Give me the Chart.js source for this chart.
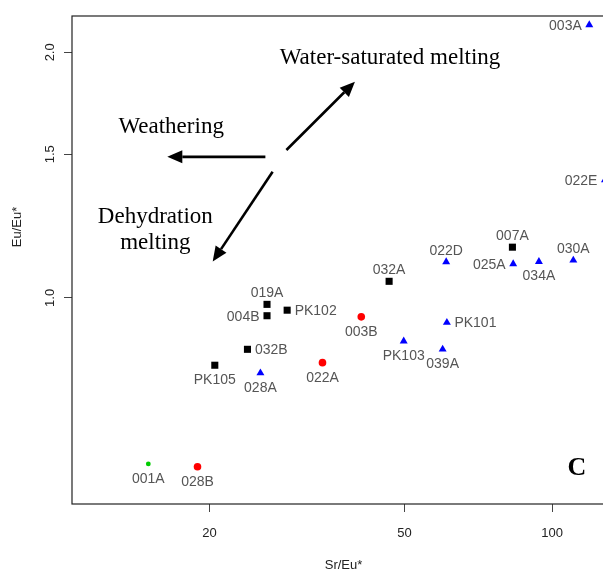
<!DOCTYPE html>
<html>
<head>
<meta charset="utf-8">
<script src="https://cdn.jsdelivr.net/npm/chart.js@4.4.0/dist/chart.umd.min.js"></script>
<style>
  html, body { margin: 0; padding: 0; background: #fff; overflow: hidden; }
  #wrap { width: 620px; height: 576px; }
</style>
</head>
<body>
<div id="wrap"><canvas id="srEuChart" width="620" height="576"></canvas></div>
<script>
// Sr/Eu* against Eu/Eu*, one group per marker type
const squareNames = ['019A', '004B', 'PK102', '032B', 'PK105', '032A', '007A'];
const squareSr = [26.2, 26.2, 28.8, 23.9, 20.5, 46.5, 83.0];
const squareEu = [0.982, 0.951, 0.966, 0.865, 0.827, 1.048, 1.154];

const circleNames = ['003B', '022A', '028B'];
const circleSr = [40.8, 34.0, 18.9];
const circleEu = [0.948, 0.833, 0.621];

const triangleNames = ['028A', 'PK103', '039A', 'PK101', '022D', '025A', '034A', '030A', '003A', '022E'];
const triangleSr = [25.4, 49.8, 59.8, 61.0, 60.8, 83.3, 94.0, 110.5, 119.1, 128.2];
const triangleEu = [0.809, 0.885, 0.865, 0.933, 1.107, 1.101, 1.108, 1.112, 2.161, 1.395];

const greenNames = ['001A'];
const greenSr = [15.0];
const greenEu = [0.626];

const xTicks = [20, 50, 100];
const yTicks = [1.0, 1.5, 2.0];

// which side of its marker each sample name sits on
const labelSide = {
  '019A': 'top', '004B': 'left', 'PK102': 'right', '032B': 'right', 'PK105': 'bottom',
  '032A': 'top', '007A': 'top', '003B': 'bottom', '022A': 'bottom', '028B': 'bottom',
  '028A': 'bottom', 'PK103': 'bottom', '039A': 'bottom', 'PK101': 'right', '022D': 'top',
  '025A': 'left', '034A': 'bottom', '030A': 'top', '003A': 'left', '022E': 'left', '001A': 'bottom'
};

// process trends, in data units
const processArrows = [
  { from: [28.7, 1.518], to: [39.6, 1.841] },
  { from: [26.0, 1.489], to: [16.4, 1.489] },
  { from: [26.9, 1.428], to: [20.3, 1.108] }
];
const processLabels = [
  { text: 'Water-saturated melting', x: 46.7, y: 1.968 },
  { text: 'Weathering', x: 16.7, y: 1.621 },
  { text: 'Dehydration', x: 15.5, y: 1.257 },
  { text: 'melting', x: 15.5, y: 1.168 }
];
const panelTag = { text: 'C', x: 112.3, y: 0.618 };

const toPoints = (xs, ys, names) => xs.map((x, i) => ({ x: x, y: ys[i], name: names[i] }));

const SANS = '"Liberation Sans", Arial, sans-serif';
const SERIF = '"Liberation Serif", "Times New Roman", serif';

const drawArrow = (ctx, x1, y1, x2, y2) => {
  const ang = Math.atan2(y2 - y1, x2 - x1);
  const len = 15, half = 6.5;
  const bx = x2 - Math.cos(ang) * len, by = y2 - Math.sin(ang) * len;
  ctx.beginPath();
  ctx.moveTo(x1, y1);
  ctx.lineTo(bx, by);
  ctx.stroke();
  ctx.beginPath();
  ctx.moveTo(x2, y2);
  ctx.lineTo(bx + Math.sin(ang) * half, by - Math.cos(ang) * half);
  ctx.lineTo(bx - Math.sin(ang) * half, by + Math.cos(ang) * half);
  ctx.closePath();
  ctx.fill();
};

const overlay = {
  id: 'overlay',
  afterDraw(chart) {
    const ctx = chart.ctx;
    const area = chart.chartArea;
    const xs = chart.scales.x, ys = chart.scales.y;
    ctx.save();

    // plot frame
    ctx.strokeStyle = '#222';
    ctx.lineWidth = 1.2;
    ctx.strokeRect(area.left, area.top, area.right - area.left, area.bottom - area.top);

    // y tick labels, parallel to the axis
    ctx.fillStyle = '#222';
    ctx.font = '13px ' + SANS;
    ctx.textAlign = 'center';
    ctx.textBaseline = 'middle';
    yTicks.forEach(v => {
      ctx.save();
      ctx.translate(area.left - 22, ys.getPixelForValue(v));
      ctx.rotate(-Math.PI / 2);
      ctx.fillText(v.toFixed(1), 0, 0);
      ctx.restore();
    });

    // axis titles
    ctx.fillText('Sr/Eu*', (area.left + area.right) / 2, area.bottom + 61);
    ctx.save();
    ctx.translate(area.left - 55, 227);
    ctx.rotate(-Math.PI / 2);
    ctx.fillText('Eu/Eu*', 0, 0);
    ctx.restore();

    // sample names
    ctx.fillStyle = '#555';
    ctx.font = '14px ' + SANS;
    chart.data.datasets.forEach((ds, di) => {
      chart.getDatasetMeta(di).data.forEach((pt, i) => {
        const name = ds.data[i].name;
        const side = labelSide[name];
        if (side === 'top') {
          ctx.textAlign = 'center';
          ctx.fillText(name, pt.x, pt.y - 11);
        } else if (side === 'bottom') {
          ctx.textAlign = 'center';
          ctx.fillText(name, pt.x, pt.y + 15);
        } else if (side === 'left') {
          ctx.textAlign = 'right';
          ctx.fillText(name, pt.x - 7.5, pt.y + 1);
        } else {
          ctx.textAlign = 'left';
          ctx.fillText(name, pt.x + 7.5, pt.y + 1);
        }
      });
    });

    // process arrows and their captions
    ctx.strokeStyle = '#000';
    ctx.fillStyle = '#000';
    ctx.lineWidth = 2.6;
    processArrows.forEach(a => {
      drawArrow(ctx,
        xs.getPixelForValue(a.from[0]), ys.getPixelForValue(a.from[1]),
        xs.getPixelForValue(a.to[0]), ys.getPixelForValue(a.to[1]));
    });
    ctx.font = '23px ' + SERIF;
    ctx.textAlign = 'center';
    processLabels.forEach(l => {
      ctx.fillText(l.text, xs.getPixelForValue(l.x), ys.getPixelForValue(l.y));
    });

    ctx.font = 'bold 26px ' + SERIF;
    ctx.fillText(panelTag.text, xs.getPixelForValue(panelTag.x), ys.getPixelForValue(panelTag.y));
    ctx.restore();
  }
};

const ctx = document.getElementById('srEuChart').getContext('2d');

new Chart(ctx, {
  type: 'scatter',
  data: {
    datasets: [
      {
        label: 'squares',
        data: toPoints(squareSr, squareEu, squareNames),
        pointStyle: 'rect', pointRadius: 5, backgroundColor: '#000', borderWidth: 0
      },
      {
        label: 'circles',
        data: toPoints(circleSr, circleEu, circleNames),
        pointStyle: 'circle', pointRadius: 3.8, backgroundColor: '#ff0000', borderWidth: 0
      },
      {
        label: 'triangles',
        data: toPoints(triangleSr, triangleEu, triangleNames),
        pointStyle: 'triangle', pointRadius: 4.6, backgroundColor: '#0000ff', borderWidth: 0
      },
      {
        label: 'green',
        data: toPoints(greenSr, greenEu, greenNames),
        pointStyle: 'circle', pointRadius: 2.4, backgroundColor: '#00cc00', borderWidth: 0
      }
    ]
  },
  options: {
    responsive: false,
    animation: false,
    layout: { padding: { top: 16, right: 5, left: 0, bottom: 0 } },
    plugins: { legend: { display: false }, tooltip: { enabled: false } },
    scales: {
      x: {
        type: 'logarithmic',
        min: 10.48,
        max: 134.4,
        afterBuildTicks: s => { s.ticks = xTicks.map(v => ({ value: v })); },
        afterFit: s => { s.height = 72; },
        grid: { drawOnChartArea: false, drawTicks: true, tickLength: 8, color: '#444', lineWidth: 1 },
        border: { display: false },
        ticks: {
          autoSkip: false, maxRotation: 0, padding: 14, color: '#222',
          font: { family: SANS, size: 13 },
          callback: v => String(v)
        }
      },
      y: {
        type: 'logarithmic',
        min: 0.559,
        max: 2.216,
        afterBuildTicks: s => { s.ticks = yTicks.map(v => ({ value: v })); },
        afterFit: s => { s.width = 72; },
        grid: { drawOnChartArea: false, drawTicks: true, tickLength: 8, color: '#444', lineWidth: 1 },
        border: { display: false },
        ticks: { display: false }
      }
    }
  },
  plugins: [overlay]
});
</script>
</body>
</html>
